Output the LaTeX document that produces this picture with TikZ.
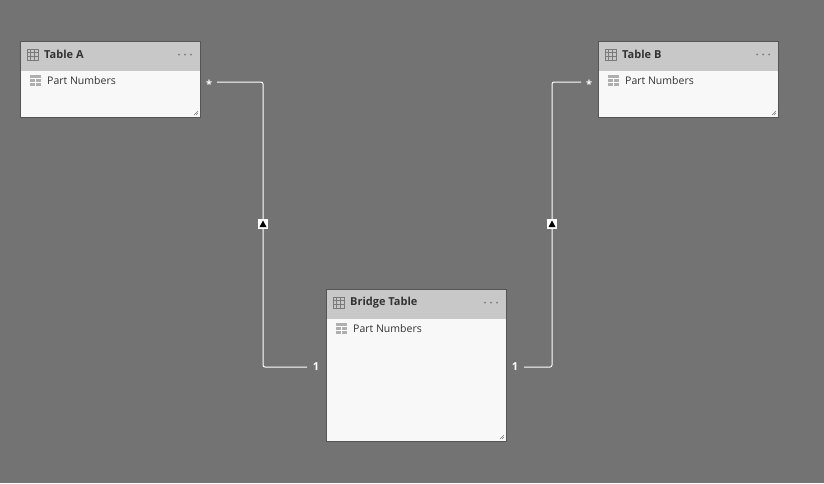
\documentclass[tikz,border=0pt]{standalone}
\usepackage{fontspec}
\setmainfont{Open Sans}
\usetikzlibrary{positioning}
\definecolor{canvas}{HTML}{737373}
\definecolor{headgray}{HTML}{C8C8C8}
\definecolor{bodywhite}{HTML}{F8F8F8}
\definecolor{textgray}{HTML}{333333}
\definecolor{icongray}{HTML}{7A7A7A}
\tikzset{
  tablebody/.style={draw=icongray!70!black, fill=bodywhite, line width=0.8pt},
  tablehead/.style={fill=headgray},
  headtext/.style={anchor=west, inner sep=0pt, font=\bfseries\fontsize{11}{13}\selectfont, text=textgray},
  fieldtext/.style={anchor=west, inner sep=0pt, font=\fontsize{10.5}{13}\selectfont, text=textgray},
  link/.style={draw=white, line width=1pt, rounded corners=2pt},
  cardtext/.style={inner sep=0pt, text=white, font=\bfseries\fontsize{11}{13}\selectfont},
  dirbox/.style={fill=white, minimum size=10pt, inner sep=0pt},
  icongrid/.style={draw=icongray, line width=0.9pt},
}
% one model table: #1 name, #2 left, #3 top, #4 bottom, #5 title
\newcommand{\modeltable}[5]{
  \draw[tablebody] (#2,#3) rectangle ++(180,#4-#3);
  \fill[tablehead] (#2+0.5,#3+0.5) rectangle ++(179,29.5);
  \coordinate (#1_nw) at (#2,#3);
  \draw[icongrid] (#2+7,#3+8) rectangle (#2+18,#3+19);
  \foreach \k in {3.67,7.33}
    \draw[icongrid] (#2+7+\k,#3+8) -- (#2+7+\k,#3+19) (#2+7,#3+8+\k) -- (#2+18,#3+8+\k);
  \node[headtext] (#1_title) at (#2+24,#3+13.5) {#5};
  \foreach \d in {0,1,2} \fill[icongray] (#2+159+6*\d,#3+13.5) circle (1);
  \fill[icongray!60] (#2+10,#3+34) rectangle (#2+21,#3+45);
  \draw[white, line width=0.7pt] (#2+10,#3+37.7) -- (#2+21,#3+37.7) (#2+10,#3+41.3) -- (#2+21,#3+41.3) (#2+15.5,#3+37.7) -- (#2+15.5,#3+45);
  \node[fieldtext] (#1_field) at (#2+27,#3+39.5) {Part Numbers};
  \draw[icongray, line width=0.5pt] (#2+174,#4-2) -- (#2+178,#4-6) (#2+176,#4-2) -- (#2+178,#4-4);
}
\begin{document}
\begin{tikzpicture}[x=1pt, y=-1pt]
\fill[canvas] (0,0) rectangle (824,483);
\modeltable{tablea}{20}{41}{117}{Table A}
\modeltable{tableb}{598}{41}{117}{Table B}
\modeltable{bridge}{326}{289}{441}{Bridge Table}

% Table A to bridge
\node[cardtext] (starA) at (209,84) {*};
\node[cardtext] (oneA) at (316,367) {1};
\coordinate (startA) at (217,82);
\coordinate (endA) at (307,367);
\draw[link] (startA) -| (263,367) -- (endA);
\node[dirbox] (dirA) at (263,224) {};
\fill[black] ([xshift=-3.5pt,yshift=-3pt]dirA.center) -- ([xshift=3.5pt,yshift=-3pt]dirA.center) -- ([yshift=3.5pt]dirA.center) -- cycle;

% Table B to bridge
\node[cardtext] (starB) at (589,84) {*};
\node[cardtext] (oneB) at (515,367) {1};
\coordinate (startB) at (581,82);
\coordinate (endB) at (524,367);
\draw[link] (startB) -| (552,367) -- (endB);
\node[dirbox] (dirB) at (552,224) {};
\fill[black] ([xshift=-3.5pt,yshift=-3pt]dirB.center) -- ([xshift=3.5pt,yshift=-3pt]dirB.center) -- ([yshift=3.5pt]dirB.center) -- cycle;
\end{tikzpicture}
\end{document}
